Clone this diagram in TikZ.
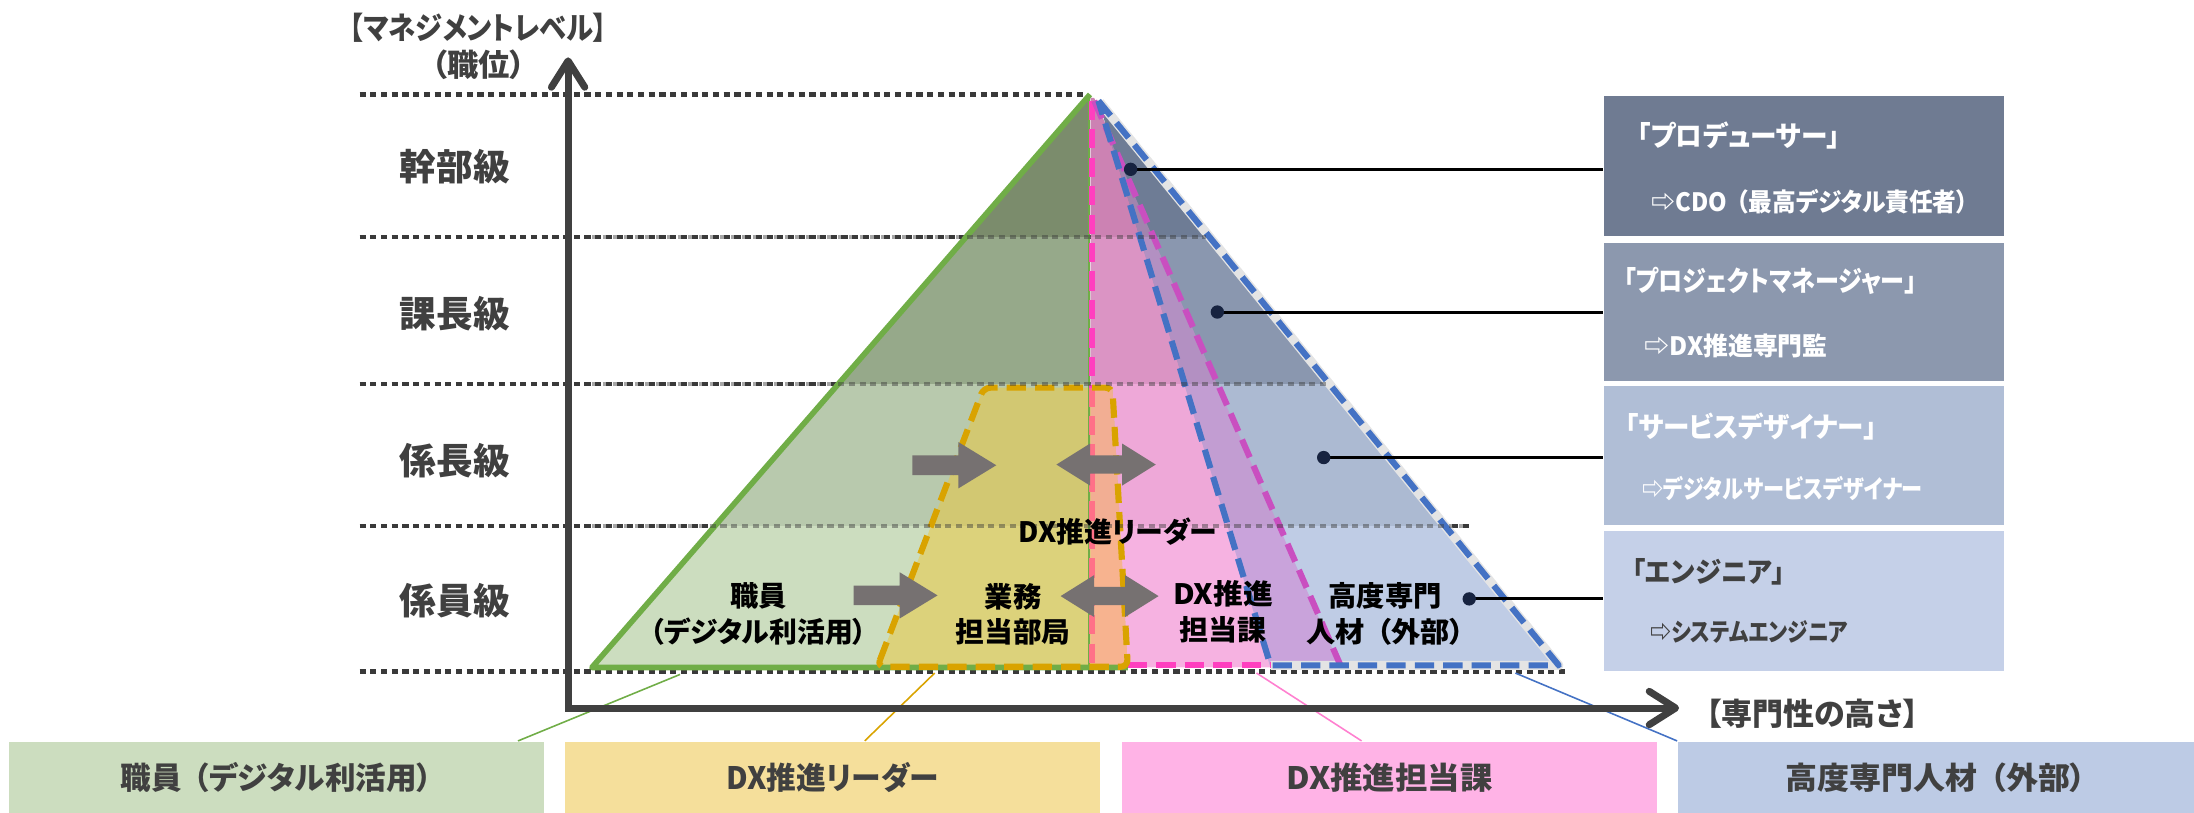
\documentclass[tikz,border=0pt]{standalone}
\usepackage{fontspec}
\setmainfont{Noto Sans CJK JP}[RawFeature=+palt]
\usetikzlibrary{arrows.meta,calc}
\definecolor{dgray}{HTML}{404040}
\definecolor{dotc}{HTML}{3A3A3A}
\definecolor{agray}{HTML}{767171}
\definecolor{navy}{HTML}{172340}
\definecolor{grn}{HTML}{70AD47}
\definecolor{gold}{HTML}{D9A300}
\definecolor{hpink}{HTML}{FF3FBF}
\definecolor{salmon}{HTML}{FF7088}
\definecolor{mag}{HTML}{C94FC0}
\definecolor{blu}{HTML}{4472C4}
\definecolor{halo}{HTML}{E4E4E4}
% tier fills
\definecolor{gA}{HTML}{7B8C6C}\definecolor{gB}{HTML}{96A98A}\definecolor{gC}{HTML}{B8C9AD}\definecolor{gD}{HTML}{CCDDBF}
\definecolor{pA}{HTML}{CC82B3}\definecolor{pB}{HTML}{DB94C4}\definecolor{pC}{HTML}{EEA8D8}\definecolor{pD}{HTML}{F6B2E1}
\definecolor{bA}{HTML}{6E7C95}\definecolor{bB}{HTML}{8A97AF}\definecolor{bC}{HTML}{ACBAD2}\definecolor{bD}{HTML}{BFCCE5}
\definecolor{uA}{HTML}{A284AE}\definecolor{uB}{HTML}{B390C2}\definecolor{uC}{HTML}{C29DD2}\definecolor{uD}{HTML}{C9A3DB}
\definecolor{yC}{HTML}{D2C872}\definecolor{yD}{HTML}{DCD27B}
\definecolor{oC}{HTML}{F2AE93}\definecolor{oD}{HTML}{F7B38F}
% boxes
\definecolor{rbA}{HTML}{6F7B92}\definecolor{rbB}{HTML}{8C98AE}\definecolor{rbC}{HTML}{B0BED6}\definecolor{rbD}{HTML}{C5D0E8}
\definecolor{bbA}{HTML}{CCDDBF}\definecolor{bbB}{HTML}{F5DF9B}\definecolor{bbC}{HTML}{FFB3E6}\definecolor{bbD}{HTML}{BDCBE5}
\definecolor{lpink}{HTML}{FF80D0}

% stretch text horizontally to a given width, keeping its height
\newcommand\fitw[2]{\resizebox{#1}{\height}{#2}}
\newcommand\lpar{\hspace{0.4em}（}

\newcommand\pyrtier[8]{%
 \begin{scope}
 \clip (0,#1) rectangle (1568,#2);
 \fill[#3] (779,67.5) -- (423,477) -- (779.5,477) -- cycle;
 \fill[#4] (779.5,70) -- (779.5,477) -- (958,477) -- (782,70) -- cycle;
 \fill[#5] (785,72) -- (908,477) -- (1114,477) -- cycle;
 \fill[#6] (793,99) -- (908,477) -- (958,477) -- cycle;
 \fill[#7] (703,277) -- (795,277) -- (806,477) -- (627,477) -- cycle;
 \fill[#8] (779.5,277) -- (795,277) -- (806,477) -- (779.5,477) -- cycle;
 \end{scope}}

\begin{document}
\begin{tikzpicture}[x=0.014cm,y=-0.014cm,
  lvl/.style={font=\fontsize{10.4}{12}\selectfont\bfseries, text=dgray, inner sep=0},
  hdr/.style={font=\fontsize{8.8}{10}\selectfont\bfseries, text=dgray, inner sep=0},
  pyr/.style={font=\fontsize{8}{10.2}\selectfont\bfseries, text=black, align=center, inner sep=0},
  ttl/.style={font=\fontsize{8}{9}\selectfont\bfseries, anchor=west, inner sep=0},
  sub/.style={font=\fontsize{7.2}{8}\selectfont\bfseries, anchor=west, inner sep=0},
  rbox/.style={minimum width=4.011cm, inner sep=0, draw=none, anchor=north west},
  bbox/.style={minimum height=0.714cm, inner sep=0, draw=none, font=\fontsize{8.8}{11}\selectfont\bfseries, text=dgray},
  dotline/.style={draw=dotc, line width=1.3pt, dash pattern=on 1.75pt off 1.3pt},
  dsh/.style={line width=1.75pt, dash pattern=on 5.5pt off 2.6pt, line join=round},
  blockarrow/.style={fill=agray},
  lead/.style={line width=0.45pt},
  rlead/.style={draw=black, line width=0.85pt},
  axis/.style={draw=dgray, line width=2pt, line join=miter,
    {Straight Barb[length=7.5pt,width=9.5pt,round]}-{Straight Barb[length=7.5pt,width=9.5pt,round]}}
]
\useasboundingbox (0,0) rectangle (1568,581);

% dotted level lines (under)
\draw[dotline] (257,67.5) -- (777,67.5);
\draw[dotline] (257,169.4) -- (862,169.4);
\draw[dotline] (257,274.5) -- (950,274.5);
\draw[dotline] (257,376) -- (1050,376);
\draw[dotline] (257,480) -- (1121,480);

% pyramid fills by tier
\pyrtier{60}{169.4}{gA}{pA}{bA}{uA}{yC}{oC}
\pyrtier{169.4}{274.5}{gB}{pB}{bB}{uB}{yC}{oC}
\pyrtier{274.5}{376}{gC}{pC}{bC}{uC}{yC}{oC}
\pyrtier{376}{480}{gD}{pD}{bD}{uD}{yD}{oD}

% outlines
\draw[halo, line width=2.6pt, line join=round] (786,73) -- (1114,475.5) -- (908,475.5);
\draw[grn, line width=1.6pt, line join=round] (779,67.5) -- (423,477) -- (806,477);
\draw[grn, line width=0.6pt] (778.5,68) -- (778.5,477);
\draw[dsh, hpink] (780.5,72) -- (780.5,277);
\draw[dsh, salmon] (780.5,277) -- (780.5,475.5);
\draw[dsh, hpink] (806,475.5) -- (908,475.5);
\draw[dsh, mag] (782,72) -- (958,475.5);
\draw[dsh, blu] (785,72) -- (1114,475.5) -- (908,475.5) -- cycle;
\draw[dsh, gold, rounded corners=2] (627,476.5) -- (703,277) -- (795,277) -- (806,476.5) -- cycle;

% dotted lines faintly through pyramid
\begin{scope}[opacity=0.45]
\draw[dotline] (423,169.4) -- (862,169.4);
\draw[dotline] (423,274.5) -- (950,274.5);
\draw[dotline] (423,376) -- (1050,376);
\end{scope}

% block arrows
\fill[blockarrow] (652,325.5) -- (685,325.5) -- (685,316) -- (712,332.5) -- (685,349) -- (685,339.5) -- (652,339.5) -- cycle;
\fill[blockarrow] (755,332) -- (779,317) -- (779,325.5) -- (802,325.5) -- (802,317) -- (826,332) -- (802,347) -- (802,338.5) -- (779,338.5) -- (779,347) -- cycle;
\fill[blockarrow] (610,418.5) -- (643,418.5) -- (643,409) -- (670,425.5) -- (643,442) -- (643,432.5) -- (610,432.5) -- cycle;
\fill[blockarrow] (758,426) -- (782,411) -- (782,419.5) -- (804,419.5) -- (804,411) -- (828,426) -- (804,441) -- (804,432.5) -- (782,432.5) -- (782,441) -- cycle;

% pyramid texts
\node[pyr] (tA) at (542,439) {\fitw{0.567cm}{職員}\\\fitw{2.17cm}{（デジタル利活用）}};
\node[pyr] (tB) at (724,439) {\fitw{0.567cm}{業務}\\\fitw{1.15cm}{担当部局}};
\node[pyr] (tC) at (874,437) {\fitw{1.0cm}{DX推進}\\\fitw{0.87cm}{担当課}};
\node[pyr] (tD) at (990,439) {\fitw{1.134cm}{高度専門}\\\fitw{1.58cm}{人材\lpar 外部）}};
\node[pyr] (tE) at (799,380) {\fitw{1.99cm}{DX推進リーダー}};

% right boxes
\node[rbox, fill=rbA, minimum height=1.40cm] (box1) at (1145.5,68) {};
\node[rbox, fill=rbB, minimum height=1.386cm] (box2) at (1145.5,173) {};
\node[rbox, fill=rbC, minimum height=1.40cm] (box3) at (1145.5,275) {};
\node[rbox, fill=rbD, minimum height=1.40cm] (box4) at (1145.5,379) {};
\node[ttl, text=white] (b1t) at (1170,97) {\fitw{2.03cm}{「プロデューサー」}};
\node[sub, text=white] (b1s) at (1180,144) {\fitw{3.17cm}{⇨CDO\lpar 最高デジタル責任者）}};
\node[ttl, text=white] (b2t) at (1160,201) {\fitw{2.93cm}{「プロジェクトマネージャー」}};
\node[sub, text=white] (b2s) at (1175,247) {\fitw{1.83cm}{⇨DX推進専門監}};
\node[ttl, text=white] (b3t) at (1161,305) {\fitw{2.52cm}{「サービスデザイナー」}};
\node[sub, text=white] (b3s) at (1173,349) {\fitw{2.81cm}{⇨デジタルサービスデザイナー}};
\node[ttl, text=dgray] (b4t) at (1166,409) {\fitw{1.53cm}{「エンジニア」}};
\node[sub, text=dgray] (b4s) at (1179,452) {\fitw{1.98cm}{⇨システムエンジニア}};

% leader lines to right boxes
\coordinate (d1) at (808,121);
\coordinate (d2) at (870,223);
\coordinate (d3) at (946,327);
\coordinate (d4) at (1050,428);
\draw[rlead] (d1) -- (d1 -| box1.west);
\draw[rlead] (d2) -- (d2 -| box2.west);
\draw[rlead] (d3) -- (d3 -| box3.west);
\draw[rlead] (d4) -- (d4 -| box4.west);
\foreach \d in {d1,d2,d3,d4} \fill[navy] (\d) circle (1.9pt);

% bottom boxes
\node[bbox, fill=bbA, minimum width=5.362cm] (bb1) at (197.5,555.5) {\fitw{3.12cm}{職員\lpar デジタル利活用）}};
\node[bbox, fill=bbB, minimum width=5.348cm] (bb2) at (595,555.5) {\fitw{2.12cm}{DX推進リーダー}};
\node[bbox, fill=bbC, minimum width=5.348cm] (bb3) at (993,555.5) {\fitw{2.06cm}{DX推進担当課}};
\node[bbox, fill=bbD, minimum width=5.166cm] (bb4) at (1383.5,555.5) {\fitw{3.01cm}{高度専門人材\lpar 外部）}};

% leaders to bottom boxes
\coordinate (lg) at (486,482);
\coordinate (ly) at (668,481);
\coordinate (lp) at (898,481);
\coordinate (lb) at (1083,481);
\draw[lead, grn] (lg) -- ($(bb1.north east)!0.05!(bb1.north west)$);
\draw[lead, gold] (ly) -- ($(bb2.north west)!0.56!(bb2.north east)$);
\draw[lead, lpink] (lp) -- ($(bb3.north west)!0.448!(bb3.north east)$);
\draw[lead, blu] (lb) -- (bb4.north west);

% axes
\coordinate (org) at (406,506);
\coordinate (ytip) at (406,41);
\coordinate (xtip) at (1200,506);
\draw[axis] (ytip) -- (org) -- (xtip);

% labels
\node[hdr] (hdr1) at (342,20) {\fitw{2.576cm}{【マネジメントレベル】}};
\node[hdr] (hdr2) at (342,46.5) {\fitw{0.94cm}{（職位）}};
\node[hdr] (xlab) at (1295,510) {\fitw{2.128cm}{【専門性の高さ】}};
\node[lvl] (lv1) at (325,119) {\fitw{1.10cm}{幹部級}};
\node[lvl] (lv2) at (325,224) {\fitw{1.10cm}{課長級}};
\node[lvl] (lv3) at (325,329) {\fitw{1.10cm}{係長級}};
\node[lvl] (lv4) at (325,429) {\fitw{1.10cm}{係員級}};
\end{tikzpicture}
\end{document}
